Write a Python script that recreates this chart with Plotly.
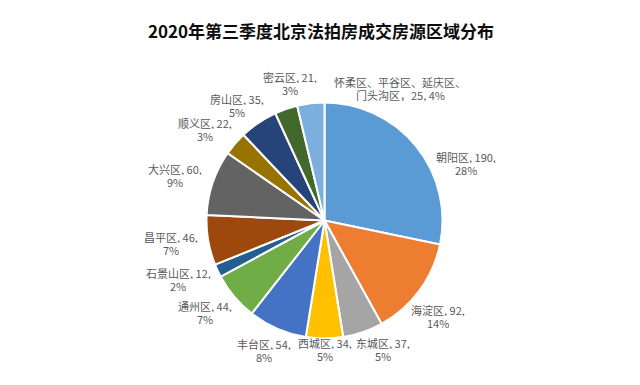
import plotly.graph_objects as go

districts = ["朝阳区", "海淀区", "东城区", "西城区", "丰台区", "通州区", "石景山区",
             "昌平区", "大兴区", "顺义区", "房山区", "密云区",
             "怀柔区、平谷区、延庆区、门头沟区"]
counts = [190, 92, 37, 34, 54, 44, 12, 46, 60, 22, 35, 21, 25]
pct_labels = ["28%", "14%", "5%", "5%", "8%", "7%", "2%", "7%", "9%", "3%", "5%", "3%", "4%"]
colors = ["#5B9BD5", "#ED7D31", "#A5A5A5", "#FFC000", "#4472C4", "#70AD47", "#255E91",
          "#9E480E", "#636363", "#997300", "#264478", "#43682B", "#7CAFDD"]

W, H = 640, 385
# label block centres (pixels, from top-left) -- layout only
label_xy = [(466, 163), (438, 316), (383, 349), (325, 349), (264, 350), (205, 312),
            (178, 279), (171, 243), (175, 175), (205, 129), (237, 105), (290, 83),
            (400, 88)]
LINE = 13.5

cx, cy, R = 324.5, 220.5, 118

fig = go.Figure(go.Pie(
    labels=districts,
    values=counts,
    sort=False,
    direction="clockwise",
    rotation=0,
    marker=dict(colors=colors, line=dict(color="white", width=2)),
    textinfo="none",
    domain=dict(x=[(cx - R) / W, (cx + R) / W], y=[1 - (cy + R) / H, 1 - (cy - R) / H]),
    showlegend=False,
    hoverinfo="label+value+percent",
))

annotations = []
for i, (name, v, p) in enumerate(zip(districts, counts, pct_labels)):
    if "、" in name and len(name) > 6:
        lines = ["怀柔区、平谷区、延庆区、", "门头沟区，%d, %s" % (v, p)]
    else:
        lines = ["%s, %d," % (name, v), p]
    x, y = label_xy[i]
    for k, t in enumerate(lines):
        yy = y + (k - 0.5) * LINE
        annotations.append(dict(
            text=t, x=x / W, y=1 - yy / H, xref="paper", yref="paper",
            xanchor="center", yanchor="middle", align="center", valign="middle",
            showarrow=False, height=13, borderpad=0,
            font=dict(family="Noto Sans CJK SC", size=11, color="#595959"),
        ))

fig.update_layout(
    width=W, height=H,
    margin=dict(l=0, r=0, t=0, b=0),
    paper_bgcolor="white",
    annotations=annotations,
    title=dict(text="<b>2020年第三季度北京法拍房成交房源区域分布</b>",
               x=321 / W, xanchor="center", y=1 - 32 / H, yanchor="middle",
               font=dict(family="Noto Sans CJK SC", size=17, color="#0D0D0D")),
)

fig.write_html("out.html", config={"displayModeBar": False},
               post_script="document.body.style.margin='0px';")
